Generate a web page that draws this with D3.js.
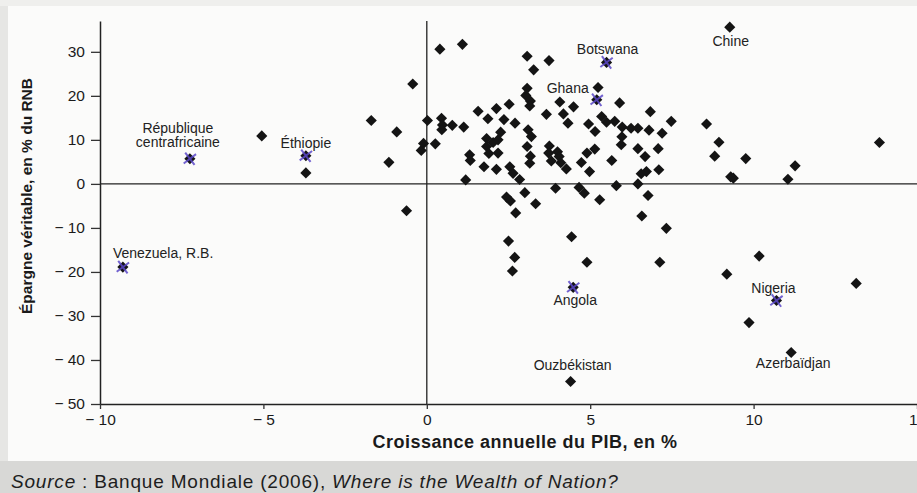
<html>
<style>
    body { margin:0; background:#fbfbfa; }
    svg { display:block; font-family:"Liberation Sans", Arial, sans-serif; }
</style>
<script src="https://d3js.org/d3.v7.min.js" charset="utf-8"></script>
<body>
<script>
    //************************************************************
    // Data
    //************************************************************
    // unlabelled countries : growth of GDP (x) and genuine saving (y)
    var growth = [-5.05, -3.7, -1.7, -1.16, -0.92, -0.62, -0.43, -0.17, -0.1, 0.02,
        0.26, 0.45, 0.48, 0.46, 0.78, 0.4, 1.09, 1.13, 1.19, 1.31,
        1.33, 1.57, 1.75, 1.87, 1.83, 2.03, 2.18, 2.26, 1.83, 1.9,
        2.18, 2.13, 2.36, 2.7, 2.13, 2.52, 3.1, 3.2, 3.07, 3.17,
        3.15, 2.54, 2.64, 2.84, 3.75, 3.73, 4.0, 3.81, 4.1, 4.27,
        4.05, 4.32, 4.95, 5.15, 5.35, 5.5, 5.75, 5.98, 6.25, 6.46,
        6.8, 7.2, 5.97, 5.95, 5.14, 4.9, 4.73, 4.98, 5.66, 6.46,
        6.68, 7.08, 7.1, 6.72, 6.56, 6.46, 3.03, 3.07, 3.17, 3.15,
        3.07, 3.74, 3.27, 3.66, 4.07, 4.18, 4.49, 5.24, 5.9, 6.84,
        7.48, 8.56, 8.94, 8.81, 9.76, 9.38, 9.3, 11.27, 11.05, 13.85,
        3.94, 4.66, 4.82, 5.8, 6.77, 5.29, 6.58, 7.33, 4.43, 2.5,
        3.0, 2.44, 2.56, 3.33, 2.72, 2.69, 2.62, 4.9, 7.13, 9.18,
        10.17, 9.86, 13.14];
    var savings = [10.9, 2.5, 14.4, 4.9, 11.8, -6.1, 22.7, 7.6, 9.2, 14.4,
        9.1, 14.9, 13.4, 12.3, 13.3, 30.6, 31.7, 12.9, 0.9, 6.6,
        5.3, 16.5, 3.9, 14.8, 10.3, 9.4, 10.0, 11.75, 8.5, 6.9,
        7.0, 3.3, 14.6, 13.8, 17.1, 18.1, 12.3, 10.75, 8.5, 6.3,
        4.7, 3.9, 2.4, 1.0, 8.6, 7.0, 7.3, 5.2, 4.8, 3.4,
        6.2, 13.8, 13.6, 11.9, 15.3, 14.0, 14.2, 12.9, 12.65, 12.65,
        12.2, 11.5, 10.7, 8.9, 7.9, 7.0, 4.85, 2.8, 5.3, 8.0,
        6.2, 8.0, 3.2, 2.8, 2.3, 0.0, 20.1, 21.7, 18.8, 17.7,
        29.0, 28.0, 25.9, 15.8, 18.6, 15.9, 17.5, 21.9, 18.4, 16.4,
        14.2, 13.6, 9.45, 6.3, 5.75, 1.3, 1.6, 4.1, 1.05, 9.4,
        -1.0, -0.8, -2.1, -0.4, -2.65, -3.6, -7.3, -10.1, -12.0, -13.0,
        -2.0, -3.0, -3.9, -4.5, -6.6, -16.7, -19.8, -17.8, -17.8, -20.5,
        -16.4, -31.5, -22.6];

    // named countries (the crossed ones are marked by hand in the book)
    var names = ["République centrafricaine", "Éthiopie", "Venezuela, R.B.", "Botswana", "Ghana",
        "Chine", "Angola", "Nigeria", "Ouzbékistan", "Azerbaïdjan"];
    var namedGrowth = [-7.25, -3.7, -9.3, 5.5, 5.2, 9.27, 4.48, 10.7, 4.4, 11.15];
    var namedSavings = [5.7, 6.4, -18.9, 27.6, 19.1, 35.6, -23.5, -26.5, -44.9, -38.3];
    var crossed = [true, true, true, true, true, false, true, true, false, false];

    var xTicks = [-10, -5, 0, 5, 10, 15];
    var yTicks = [-50, -40, -30, -20, -10, 0, 10, 20, 30];

    // label placement next to each named point (dx, dy, anchor)
    var labelPos = [[-12, -26, "middle"], [0, -8, "middle"], [-10, -9, "start"], [1, -8, "middle"],
        [-8, -7, "end"], [1, 19, "middle"], [2, 18, "middle"], [-3, -8, "middle"],
        [2, -12, "middle"], [2, 16, "middle"]];

    //************************************************************
    // Configuration
    //************************************************************
    var W = 917, H = 493;
    var svg = d3.select("body").append("svg")
        .attr("width", W)
        .attr("height", H);

    // scan edges and source band
    svg.append("rect").attr("x", 0).attr("y", 0).attr("width", 8).attr("height", H).attr("fill", "#e6e6e4");
    svg.append("rect").attr("x", 0).attr("y", 0).attr("width", W).attr("height", 6).attr("fill", "#efefed");
    svg.append("rect").attr("x", 0).attr("y", 461).attr("width", W).attr("height", H - 461).attr("fill", "#d8d8d6");

    var x = d3.scaleLinear().domain([-10, 15]).range([100, 917]);
    var y = d3.scaleLinear().domain([-50, 37]).range([404, 21]);

    var fmt = function(d) { return d < 0 ? "\u2212 " + Math.abs(d) : d; };

    // y axis
    var yAxis = svg.append("g")
        .attr("transform", "translate(100,0)")
        .call(d3.axisLeft(y).tickValues(yTicks).tickFormat(fmt).tickSize(9).tickPadding(6).tickSizeOuter(0));
    // x axis
    var xAxis = svg.append("g")
        .attr("transform", "translate(0,404)")
        .call(d3.axisBottom(x).tickValues(xTicks).tickFormat(fmt).tickSize(5).tickPadding(5).tickSizeOuter(0));

    [xAxis, yAxis].forEach(function(a) {
        a.select(".domain").attr("stroke", "#222").attr("stroke-width", 1.5);
        a.selectAll(".tick line").attr("stroke", "#333").attr("stroke-width", 1.3);
        a.selectAll(".tick text").attr("fill", "#1a1a1a").style("font-size", "15.5px")
            .style("font-family", "'Liberation Sans', Arial, sans-serif");
    });

    // zero lines
    svg.append("line")
        .attr("x1", x(-10)).attr("x2", W)
        .attr("y1", y(0)).attr("y2", y(0))
        .attr("stroke", "#222").attr("stroke-width", 1.3);
    svg.append("line")
        .attr("x1", x(0)).attr("x2", x(0))
        .attr("y1", y(37)).attr("y2", y(-50))
        .attr("stroke", "#222").attr("stroke-width", 1.3);

    // axis titles
    svg.append("text")
        .attr("x", 525).attr("y", 448)
        .attr("text-anchor", "middle")
        .style("font-weight", "bold").style("font-size", "18px")
        .style("letter-spacing", "0.5px")
        .attr("fill", "#1a1a1a")
        .text("Croissance annuelle du PIB, en %");
    svg.append("text")
        .attr("transform", "translate(32,196) rotate(-90)")
        .attr("text-anchor", "middle")
        .style("font-weight", "bold").style("font-size", "15.5px")
        .attr("fill", "#1a1a1a")
        .text("Épargne véritable, en % du RNB");

    //************************************************************
    // Points
    //************************************************************
    var diamond = d3.symbol().type(d3.symbolSquare).size(62);
    var pts = growth.map(function(g, i) { return [g, savings[i]]; });
    var named = names.map(function(n, i) { return [namedGrowth[i], namedSavings[i], n, crossed[i], labelPos[i]]; });

    svg.selectAll("path.pt")
        .data(pts.concat(named))
        .enter().append("path")
        .attr("class", "pt")
        .attr("d", diamond)
        .attr("transform", function(d) { return "translate(" + x(d[0]) + "," + y(d[1]) + ") rotate(45)"; })
        .attr("fill", "#141414");

    // hand-drawn crosses
    var cross = d3.symbol().type(d3.symbolX).size(80);
    svg.selectAll("path.cross")
        .data(named.filter(function(d) { return d[3]; }))
        .enter().append("path")
        .attr("class", "cross")
        .attr("d", cross)
        .attr("transform", function(d) { return "translate(" + x(d[0]) + "," + y(d[1]) + ") rotate(8)"; })
        .attr("fill", "none")
        .attr("stroke", "#5a48c8")
        .attr("stroke-width", 2)
        .attr("opacity", 0.85);

    // country labels
    var lab = svg.selectAll("text.lab")
        .data(named)
        .enter().append("text")
        .attr("class", "lab")
        .attr("x", function(d) { return x(d[0]) + d[4][0]; })
        .attr("y", function(d) { return y(d[1]) + d[4][1]; })
        .attr("text-anchor", function(d) { return d[4][2]; })
        .style("font-size", "14px")
        .attr("fill", "#222");
    lab.each(function(d) {
        var t = d3.select(this);
        if (d[2] == "République centrafricaine") {
            t.append("tspan").attr("x", x(d[0]) + d[4][0]).text("République");
            t.append("tspan").attr("x", x(d[0]) + d[4][0]).attr("dy", 14).text("centrafricaine");
        } else {
            t.text(d[2]);
        }
    });

    //************************************************************
    // Source line
    //************************************************************
    var src = svg.append("text")
        .attr("x", 11).attr("y", 488)
        .style("font-size", "19px")
        .style("letter-spacing", "0.8px")
        .attr("fill", "#1e1e1e");
    src.append("tspan").style("font-style", "italic").text("Source");
    src.append("tspan").text(" : Banque Mondiale (2006), ");
    src.append("tspan").style("font-style", "italic").text("Where is the Wealth of Nation?");
</script>
</body>
</html>
